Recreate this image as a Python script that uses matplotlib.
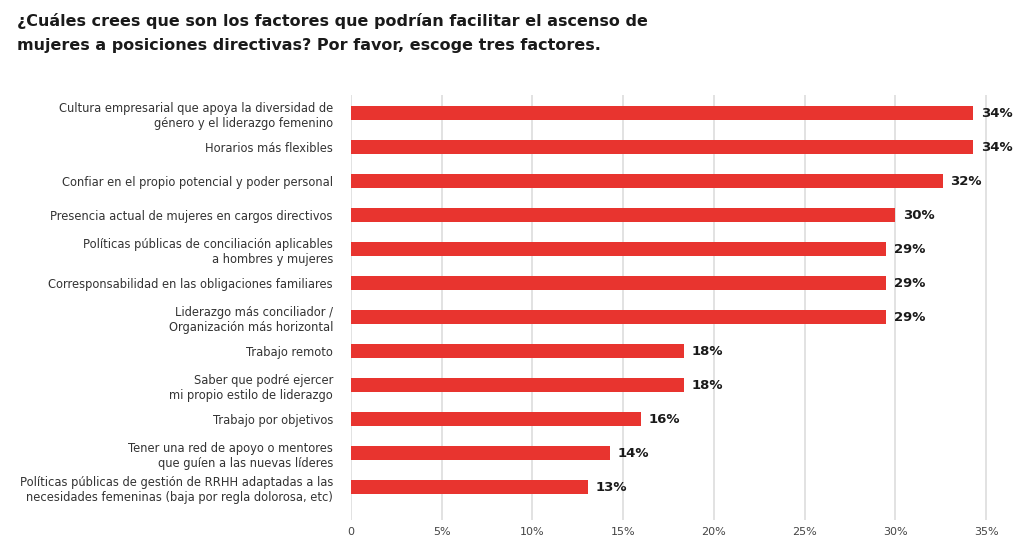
import matplotlib.pyplot as plt
import numpy as np

plt.rcParams['font.family'] = ['DejaVu Sans']

categories = [
    "Cultura empresarial que apoya la diversidad de\ngénero y el liderazgo femenino",
    "Horarios más flexibles",
    "Confiar en el propio potencial y poder personal",
    "Presencia actual de mujeres en cargos directivos",
    "Políticas públicas de conciliación aplicables\na hombres y mujeres",
    "Corresponsabilidad en las obligaciones familiares",
    "Liderazgo más conciliador /\nOrganización más horizontal",
    "Trabajo remoto",
    "Saber que podré ejercer\nmi propio estilo de liderazgo",
    "Trabajo por objetivos",
    "Tener una red de apoyo o mentores\nque guíen a las nuevas líderes",
    "Políticas públicas de gestión de RRHH adaptadas a las\nnecesidades femeninas (baja por regla dolorosa, etc)",
]
values = [34.3, 34.3, 32.6, 30.0, 29.5, 29.5, 29.5, 18.35, 18.35, 16.0, 14.3, 13.05]
value_labels = ["34%", "34%", "32%", "30%", "29%", "29%", "29%", "18%", "18%", "16%", "14%", "13%"]
xticks = [0, 5, 10, 15, 20, 25, 30, 35]
xtick_labels = ["0", "5%", "10%", "15%", "20%", "25%", "30%", "35%"]

fig = plt.figure(figsize=(10.24, 5.5), dpi=100)
ax = fig.add_axes([351 / 1024, 1 - 520 / 550, 646 / 1024, 425 / 550])

y = np.arange(len(categories))
ax.barh(y, values, height=0.42, color='#e8342f', zorder=2)
for yi, v, lab in zip(y, values, value_labels):
    ax.text(v + 0.4, yi, lab, va='center', ha='left', fontsize=9.5,
            fontweight='bold', color='#1a1a1a', clip_on=False)

ax.set_xlim(0, 35.6)
ax.set_ylim(11.97, -0.53)
ax.set_yticks(y)
ax.set_yticklabels(categories, fontsize=8.3, color='#333333', linespacing=1.2)
ax.set_xticks(xticks)
ax.set_xticklabels(xtick_labels, fontsize=8, color='#444444')
ax.tick_params(axis='both', length=0)
ax.tick_params(axis='y', pad=13)
ax.tick_params(axis='x', pad=5)
ax.grid(axis='x', color='#dddddd', linewidth=1.2, zorder=0)
ax.set_axisbelow(True)
for s in ax.spines.values():
    s.set_visible(False)

fig.text(17 / 1024, 1 - 13 / 550,
         "¿Cuáles crees que son los factores que podrían facilitar el ascenso de\n"
         "mujeres a posiciones directivas? Por favor, escoge tres factores.",
         ha='left', va='top', fontsize=11.5, fontweight='bold', color='#1a1a1a',
         linespacing=1.75)

fig.savefig('out.png', dpi=100)
